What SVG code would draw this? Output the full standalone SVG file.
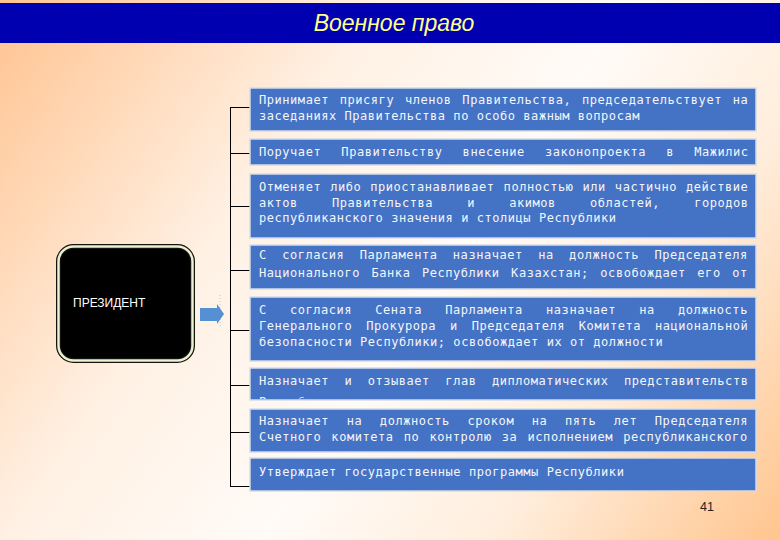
<svg xmlns="http://www.w3.org/2000/svg" width="780" height="540" viewBox="0 0 780 540">
<defs>
<linearGradient id="bg" x1="0" y1="0" x2="780" y2="540" gradientUnits="userSpaceOnUse">
<stop offset="0" stop-color="#ffc390"/>
<stop offset="0.33" stop-color="#fff1e4"/>
<stop offset="0.55" stop-color="#fffbf7"/>
<stop offset="0.75" stop-color="#ffeedd"/>
<stop offset="1" stop-color="#ffc58e"/>
</linearGradient>
<clipPath id="c6"><rect x="250" y="368" width="506" height="31"/></clipPath>
<style>
.box{fill:#4472c4;stroke:#d4dcea;stroke-width:1.5}
.t{font-family:"DejaVu Sans Mono","Liberation Mono",monospace;font-size:12px;letter-spacing:0.55px;fill:#f4f6fa}
.ln{stroke:#000;stroke-width:1;fill:none}
</style>
</defs>
<rect x="0" y="0" width="780" height="540" fill="url(#bg)"/>
<g id="title">
<rect x="0" y="3" width="780" height="40" fill="#0000b0"/>
<text x="394" y="31" text-anchor="middle" font-family="Liberation Sans, Arial, sans-serif" font-style="italic" font-size="23" fill="#ffff88">Военное право</text>
</g>
<g id="president">
<rect x="58.5" y="246.5" width="134" height="114" rx="15" fill="#000" stroke="#141410" stroke-width="5"/>
<rect x="58.5" y="246.5" width="134" height="114" rx="15" fill="none" stroke="#eef0d2" stroke-width="2.5"/>
<text x="73" y="307" font-family="Liberation Sans, Arial, sans-serif" font-size="12" fill="#ffffff">ПРЕЗИДЕНТ</text>
</g>
<g id="arrow">
<line x1="220" y1="295" x2="220" y2="328" stroke="#b8c4dc" stroke-width="1" stroke-dasharray="1,2"/>
<polygon points="200,308 217,308 217,304 224,314 217,324 217,321 200,321" fill="#5590d2"/>
</g>
<g id="connectors">
<line class="ln" x1="230.5" y1="107" x2="230.5" y2="486.5"/>
<line class="ln" x1="230" y1="107.5" x2="250" y2="107.5"/>
<line class="ln" x1="230" y1="153.5" x2="250" y2="153.5"/>
<line class="ln" x1="230" y1="206.5" x2="250" y2="206.5"/>
<line class="ln" x1="230" y1="270.5" x2="250" y2="270.5"/>
<line class="ln" x1="230" y1="330.5" x2="250" y2="330.5"/>
<line class="ln" x1="230" y1="385.5" x2="250" y2="385.5" stroke-width="1.5"/>
<line class="ln" x1="230" y1="432.5" x2="250" y2="432.5"/>
<line class="ln" x1="230" y1="486.5" x2="250" y2="486.5"/>
</g>
<g id="n1">
<rect class="box" x="250" y="88" width="506" height="43"/>
<text class="t" x="259" y="104" word-spacing="3">Принимает присягу членов Правительства, председательствует на</text>
<text class="t" x="259" y="120">заседаниях Правительства по особо важным вопросам</text>
</g>
<g id="n2">
<rect class="box" x="250" y="139" width="506" height="26"/>
<text class="t" x="259" y="156" word-spacing="12.4">Поручает Правительству внесение законопроекта в Мажилис</text>
</g>
<g id="n3">
<rect class="box" x="250" y="174" width="506" height="64"/>
<text class="t" x="259" y="191" word-spacing="1.2">Отменяет либо приостанавливает полностью или частично действие</text>
<text class="t" x="259" y="207" word-spacing="26.4">актов Правительства и акимов областей, городов</text>
<text class="t" x="259" y="222">республиканского значения и столицы Республики</text>
</g>
<g id="n4">
<rect class="box" x="250" y="245" width="506" height="44"/>
<text class="t" x="259" y="259" word-spacing="7.6">С согласия Парламента назначает на должность Председателя</text>
<text class="t" x="259" y="277" word-spacing="3.7">Национального Банка Республики Казахстан; освобождает его от</text>
</g>
<g id="n5">
<rect class="box" x="250" y="297" width="506" height="64"/>
<text class="t" x="259" y="314" word-spacing="15.4">С согласия Сената Парламента назначает на должность</text>
<text class="t" x="259" y="330" word-spacing="6.1">Генерального Прокурора и Председателя Комитета национальной</text>
<text class="t" x="259" y="346">безопасности Республики; освобождает их от должности</text>
</g>
<g id="n6">
<rect class="box" x="250" y="368" width="506" height="32"/>
<text class="t" x="259" y="385" word-spacing="7.7">Назначает и отзывает глав дипломатических представительств</text>
<text class="t" x="259" y="406" clip-path="url(#c6)">Республики</text>
</g>
<g id="n7">
<rect class="box" x="250" y="409" width="506" height="43"/>
<text class="t" x="259" y="425" word-spacing="9.9">Назначает на должность сроком на пять лет Председателя</text>
<text class="t" x="259" y="441" word-spacing="2.4">Счетного комитета по контролю за исполнением республиканского</text>
</g>
<g id="n8">
<rect class="box" x="250" y="458" width="506" height="33"/>
<text class="t" x="259" y="476">Утверждает государственные программы Республики</text>
</g>
<text x="707" y="511" text-anchor="middle" font-family="Liberation Sans, Arial, sans-serif" font-size="12.5" fill="#222">41</text>
</svg>
